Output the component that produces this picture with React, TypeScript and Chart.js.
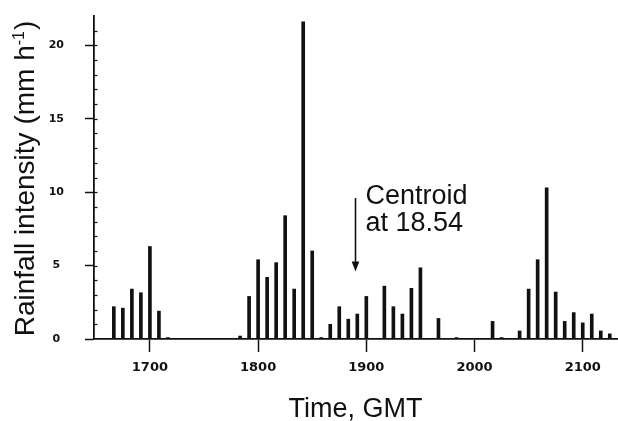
import { useEffect, useRef } from 'react';
import { Chart, registerables } from 'chart.js';

Chart.register(...registerables);

// Time in minutes after 17:00 GMT (5-minute rain-gauge intervals)
const minutesAfter1700 = [
  -20, -15, -10, -5, 0, 5, 10,
  50, 55, 60, 65, 70, 75, 80, 85, 90, 95,
  100, 105, 110, 115, 120, 130, 135, 140, 145, 150, 160, 170,
  190, 195, 205, 210, 215, 220, 225, 230, 235, 240, 245, 250, 255,
];
// Rainfall intensity (mm h-1)
const intensity = [
  2.2, 2.1, 3.4, 3.15, 6.3, 1.9, 0.1,
  0.2, 2.9, 5.4, 4.2, 5.2, 8.4, 3.4, 21.6, 6.0, 0.1,
  1.0, 2.2, 1.35, 1.7, 2.9, 3.6, 2.2, 1.7, 3.45, 4.85, 1.4, 0.1,
  1.2, 0.1, 0.55, 3.4, 5.4, 10.3, 3.2, 1.2, 1.8, 1.1, 1.7, 0.55, 0.35,
];

const xTickValues = [0, 60, 120, 180, 240];
const xTickLabels = ['1700', '1800', '1900', '2000', '2100'];
const yTickValues = [0, 5, 10, 15, 20];
const yMinorTicks = [1, 2, 3, 4, 6, 7, 8, 9, 11, 12, 13, 14, 16, 17, 18, 19, 21];

const centroidMinutes = 114; // 18:54
const centroidArrowFrom = 9.6;
const centroidArrowTo = 4.6;
const centroidText = ['Centroid', 'at 18.54'];

const xTitle = 'Time, GMT';
const yTitleMain = 'Rainfall intensity (mm h';
const yTitleSup = '-1';
const yTitleEnd = ')';

const INK = '#111';

const decorPlugin = {
  id: 'decor',
  afterDraw(chart: any) {
    const { ctx, chartArea, scales } = chart;
    const x = scales.x;
    const y = scales.y;
    ctx.save();
    ctx.strokeStyle = INK;
    ctx.fillStyle = INK;

    // inner minor ticks on y axis
    ctx.lineWidth = 1.2;
    for (const v of yMinorTicks.concat(yTickValues.slice(1))) {
      const py = Math.round(y.getPixelForValue(v)) + 0.5;
      ctx.beginPath();
      ctx.moveTo(chartArea.left, py);
      ctx.lineTo(chartArea.left + 3.5, py);
      ctx.stroke();
    }

    // centroid arrow
    const ax = x.getPixelForValue(centroidMinutes);
    const top = y.getPixelForValue(centroidArrowFrom);
    const tip = y.getPixelForValue(centroidArrowTo);
    ctx.lineWidth = 1.6;
    ctx.beginPath();
    ctx.moveTo(ax, top);
    ctx.lineTo(ax, tip - 8);
    ctx.stroke();
    ctx.beginPath();
    ctx.moveTo(ax - 3.8, tip - 10);
    ctx.lineTo(ax + 3.8, tip - 10);
    ctx.lineTo(ax, tip);
    ctx.closePath();
    ctx.fill();

    ctx.font = '27px "Liberation Sans"';
    ctx.textAlign = 'left';
    ctx.textBaseline = 'alphabetic';
    ctx.fillText(centroidText[0], ax + 10, top + 6);
    ctx.fillText(centroidText[1], ax + 10, top + 33);

    // x title
    ctx.font = '27px "Liberation Sans"';
    ctx.textAlign = 'center';
    ctx.fillText(xTitle, (chartArea.left + chartArea.right) / 2, chart.height - 4);

    // y title (rotated)
    const mainFont = '28px "Liberation Sans"';
    const supFont = '16px "Liberation Sans"';
    ctx.font = mainFont;
    const wMain = ctx.measureText(yTitleMain).width;
    const wEnd = ctx.measureText(yTitleEnd).width;
    ctx.font = supFont;
    const wSup = ctx.measureText(yTitleSup).width;
    const total = wMain + wSup + wEnd + 1;
    ctx.translate(33.5, (chartArea.top + chartArea.bottom) / 2 + 1);
    ctx.rotate(-Math.PI / 2);
    ctx.textAlign = 'left';
    let cx = -total / 2;
    ctx.font = mainFont;
    ctx.fillText(yTitleMain, cx, 0);
    cx += wMain;
    ctx.font = supFont;
    ctx.fillText(yTitleSup, cx, -10);
    cx += wSup + 1;
    ctx.font = mainFont;
    ctx.fillText(yTitleEnd, cx, 0);
    ctx.restore();
  },
};

export default function App() {
  const canvasRef = useRef<HTMLCanvasElement | null>(null);

  useEffect(() => {
    const canvas = canvasRef.current;
    if (!canvas) return;
    const points = minutesAfter1700.map((m, i) => ({ x: m, y: intensity[i] }));
    const chart = new Chart(canvas, {
      type: 'bar',
      data: {
        datasets: [
          {
            data: points as any,
            backgroundColor: INK,
            borderWidth: 0,
            barThickness: 3,
          },
        ],
      },
      options: {
        animation: false,
        responsive: false,
        devicePixelRatio: 1,
        layout: { padding: { top: 16, right: 1, left: 0, bottom: 0 } },
        plugins: {
          legend: { display: false },
          tooltip: { enabled: false },
        },
        scales: {
          x: {
            type: 'linear',
            min: -31,
            max: 259,
            offset: false,
            grid: {
              offset: false,
              drawOnChartArea: false,
              drawTicks: true,
              tickLength: 13,
              tickWidth: 1.5,
              tickColor: INK,
            },
            border: { display: true, color: INK, width: 1.8 },
            afterBuildTicks: (scale: any) => {
              scale.ticks = xTickValues.map((v) => ({ value: v }));
            },
            afterFit: (scale: any) => {
              scale.height = 82;
              scale.paddingLeft = 0;
              scale.paddingRight = 0;
            },
            ticks: {
              autoSkip: false,
              maxRotation: 0,
              padding: 8,
              color: INK,
              font: { family: 'DejaVu Sans', weight: 'bold', size: 13 },
              callback: (v: any) => {
                const i = xTickValues.indexOf(Number(v));
                return i >= 0 ? xTickLabels[i] : '';
              },
            },
          },
          y: {
            type: 'linear',
            min: 0,
            max: 22,
            grid: {
              drawOnChartArea: false,
              drawTicks: true,
              tickLength: 9,
              tickWidth: 1.5,
              tickColor: INK,
            },
            border: { display: true, color: INK, width: 1.8 },
            afterBuildTicks: (scale: any) => {
              scale.ticks = yTickValues.map((v) => ({ value: v }));
            },
            afterFit: (scale: any) => {
              scale.width = 94;
              scale.paddingTop = 0;
              scale.paddingBottom = 0;
            },
            ticks: {
              crossAlign: 'center',
              padding: 21,
              color: INK,
              font: { family: 'DejaVu Sans', weight: 'bold', size: 11 },
            },
          },
        },
      },
      plugins: [decorPlugin],
    });
    return () => chart.destroy();
  }, []);

  return (
    <div
      style={{
        position: 'fixed',
        left: 0,
        top: 0,
        width: 618,
        height: 421,
        background: '#fff',
      }}
    >
      <canvas ref={canvasRef} width={618} height={421} />
    </div>
  );
}
